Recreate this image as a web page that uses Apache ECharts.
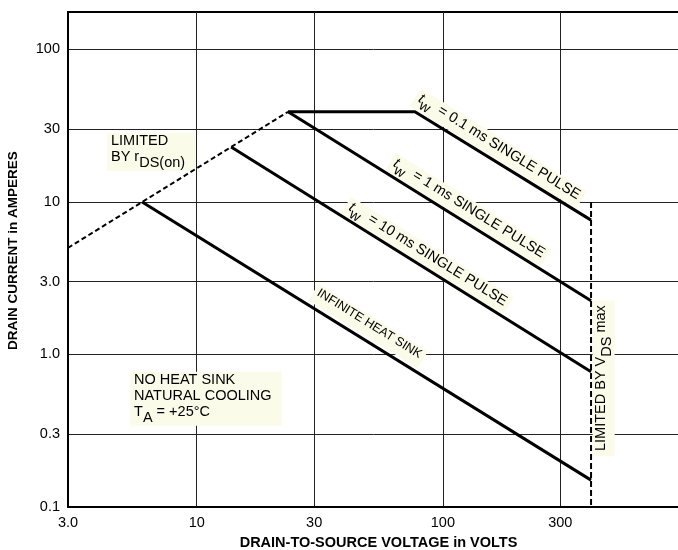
<!DOCTYPE html>
<html><head><meta charset="utf-8">
<script src="https://cdn.jsdelivr.net/npm/echarts@6/dist/echarts.min.js"></script>
<style>html,body{margin:0;padding:0;background:#fff}#c{width:678px;height:550px}</style>
</head><body><div id="c"></div>
<script>
// ---- data (volts, amperes) ----
const xTicks = [3, 10, 30, 100, 300];
const yTicks = [0.1, 0.3, 1, 3, 10, 30, 100];
const xTickLabels = ['3.0', '10', '30', '100', '300'];
const yTickLabels = ['0.1', '0.3', '1.0', '3.0', '10', '30', '100'];
const rdsLimit = [[3, 5], [23.5, 39]];
const pulse01ms = [[23.5, 39], [77, 39], [400, 7.6]];
const pulse1ms = [[23.5, 39], [400, 2.25]];
const pulse10ms = [[13.8, 22.9], [400, 0.77]];
const infiniteSink = [[6, 10], [400, 0.15]];
const vdsLimit = [[400, 10], [400, 0.1]];

// annotations: anchor in data coords
const notes = [
  {text: '{it|t}{sub|w}{n|  = 0.1 ms SINGLE PULSE}', at: [168, 22.4], kind: 'slope'},
  {text: '{it|t}{sub|w}{n|  = 1 ms SINGLE PULSE}', at: [126.6, 8.86], kind: 'slope'},
  {text: '{it|t}{sub|w}{n|  = 10 ms SINGLE PULSE}', at: [86.2, 4.42], kind: 'slope'},
  {text: '{s|INFINITE HEAT SINK}', at: [49.7, 1.54], kind: 'slope'},
  {text: '{n|LIMITED BY V}{sub|DS}{n| max}', at: [450, 0.70], kind: 'vertical'},
  {text: '{n|LIMITED}\n{n|BY r}{sub|DS(on)}', at: [4.32, 28.35], kind: 'box'},
  {text: '{n|NO HEAT SINK}\n{n|NATURAL COOLING}\n{n|T}{sub|A}{n| = +25°C}', at: [5.36, 0.771], kind: 'box'}
];

const FF = "'Liberation Sans', Arial, Helvetica, sans-serif";
const CREAM = '#fbfbea';

function fmt(list, labels) {
  return function (v) {
    let best = 0, d = Infinity;
    list.forEach((t, i) => { const dd = Math.abs(Math.log10(v) - Math.log10(t)); if (dd < d) { d = dd; best = i; } });
    return labels[best];
  };
}

const chart = echarts.init(document.getElementById('c'), null, {renderer: 'canvas'});
const lineSeries = (data, style) => ({
  type: 'line', data, symbol: 'none', silent: true, animation: false,
  lineStyle: Object.assign({color: '#000', width: 3, cap: 'butt'}, style)
});

chart.setOption({
  animation: false,
  grid: {left: 68, top: 12, right: -11, bottom: 43, outerBoundsMode: 'none', containLabel: false,
    show: true, borderColor: '#000', borderWidth: 2, backgroundColor: 'transparent'},
  xAxis: {
    type: 'log', logBase: 10, min: 3, max: 1000,
    name: 'DRAIN-TO-SOURCE VOLTAGE in VOLTS', nameLocation: 'middle', nameGap: 28,
    nameTextStyle: {fontFamily: FF, fontWeight: 'bold', fontSize: 14.5, color: '#000'},
    axisLine: {show: true, lineStyle: {color: '#000', width: 2}},
    axisTick: {show: false, customValues: xTicks},
    axisLabel: {customValues: xTicks, formatter: fmt(xTicks, xTickLabels), fontFamily: FF, fontSize: 14.5, color: '#000', margin: 8},
    splitLine: {show: true, lineStyle: {color: '#222', width: 1}},
    minorSplitLine: {show: false}
  },
  yAxis: {
    type: 'log', logBase: 10, min: 0.1, max: 176,
    name: 'DRAIN CURRENT in AMPERES', nameLocation: 'middle', nameGap: 48,
    nameTextStyle: {fontFamily: FF, fontWeight: 'bold', fontSize: 13.5, color: '#000', padding: [0, 0, 0, 18]},
    axisLine: {show: true, lineStyle: {color: '#000', width: 2}},
    axisTick: {show: false, customValues: yTicks},
    axisLabel: {customValues: yTicks, formatter: fmt(yTicks, yTickLabels), fontFamily: FF, fontSize: 14.5, color: '#000', margin: 8},
    splitLine: {show: true, lineStyle: {color: '#222', width: 1}}
  },
  series: [
    lineSeries(rdsLimit, {width: 2, type: [5, 3]}),
    lineSeries(pulse01ms, {}),
    lineSeries(pulse1ms, {}),
    lineSeries(pulse10ms, {}),
    lineSeries(infiniteSink, {}),
    lineSeries(vdsLimit, {width: 2, type: [6, 3]})
  ]
});

const px = p => chart.convertToPixel({gridIndex: 0}, p);
const a = px([10, 10]), b = px([100, 1]);
const slopeRot = -Math.atan2(b[1] - a[1], b[0] - a[0]);

const rich = {
  n: {fontFamily: FF, fontSize: 14.5, lineHeight: 16, verticalAlign: 'top', color: '#000'},
  it: {fontFamily: FF, fontSize: 14.5, fontStyle: 'italic', lineHeight: 16, verticalAlign: 'top', color: '#000'},
  sub: {fontFamily: FF, fontSize: 14.5, lineHeight: 16, padding: [6, 0, 0, 0], verticalAlign: 'top', color: '#000'},
  s: {fontFamily: FF, fontSize: 12.5, lineHeight: 15, verticalAlign: 'top', color: '#000'}
};

const graphics = notes.map(nt => {
  const p = px(nt.at);
  const g = {type: 'text', x: p[0], y: p[1], z: 1, silent: true,
    style: {text: nt.text, rich, fill: '#000', fontFamily: FF, fontSize: 14.5, backgroundColor: CREAM}};
  if (nt.kind === 'slope') {
    g.rotation = slopeRot;
    Object.assign(g.style, {align: 'center', verticalAlign: 'middle', padding: [1, 4, 4, 4]});
  } else if (nt.kind === 'vertical') {
    g.rotation = Math.PI / 2;
    Object.assign(g.style, {align: 'center', verticalAlign: 'middle', padding: [1, 5, 5, 5]});
  } else {
    Object.assign(g.style, {align: 'left', verticalAlign: 'top', padding: [1, 10, 5, 4]});
  }
  return g;
});
chart.setOption({graphic: graphics});
</script></body></html>
